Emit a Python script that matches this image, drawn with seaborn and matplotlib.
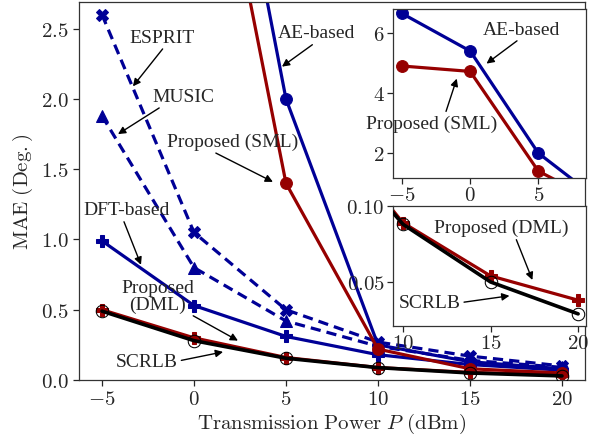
import matplotlib
matplotlib.use("Agg")
import matplotlib.pyplot as plt
import seaborn as sns
from matplotlib.ticker import FuncFormatter

# transmission power (dBm)
power = [-5, 0, 5, 10, 15, 20]

# MAE (deg.) per method
esprit = [2.60, 1.05, 0.50, 0.27, 0.17, 0.10]
music = [1.88, 0.80, 0.42, 0.24, 0.14, 0.09]
dft_based = [0.99, 0.53, 0.31, 0.18, 0.11, 0.07]
ae_based = [6.65, 5.40, 2.00, 0.25, 0.13, 0.08]
proposed_sml = [4.90, 4.72, 1.40, 0.22, 0.08, 0.05]
proposed_dml = [0.50, 0.30, 0.16, 0.089, 0.054, 0.038]
scrlb = [0.49, 0.28, 0.155, 0.088, 0.050, 0.029]

BLUE = "#000096"
RED = "#960000"

sns.set_style("ticks")
plt.rcParams["font.family"] = ["Liberation Serif", "DejaVu Serif"]
plt.rcParams["mathtext.fontset"] = "cm"
plt.rcParams["axes.linewidth"] = 0.9
plt.rcParams["axes.edgecolor"] = "#333333"

FS = 14
TICK_FS = 15

fig = plt.figure(figsize=(5.93, 4.39), dpi=100)
ax = fig.add_axes([0.1332, 0.1321, 0.8533, 0.861])


def draw(a, y, color, marker, ls="-", mfc=None, lw=2.3, ms=8.5, z=2):
    sns.lineplot(x=power, y=y, ax=a, color=color, marker=marker, linestyle=ls,
                 linewidth=lw, markersize=ms, markeredgecolor=color,
                 markerfacecolor=mfc if mfc is not None else color, zorder=z)


def math_fmt(fmt):
    return FuncFormatter(lambda v, p: "$" + format(v, fmt) + "$")


draw(ax, esprit, BLUE, "X", ls=(0, (3.2, 1.9)))
draw(ax, music, BLUE, "^", ls=(0, (3.2, 1.9)))
draw(ax, dft_based, BLUE, "P")
draw(ax, ae_based, BLUE, "o")
draw(ax, proposed_sml, RED, "o")
draw(ax, proposed_dml, RED, "P")
draw(ax, scrlb, "black", "o", mfc="none", lw=2.6, ms=9, z=3)

ax.set_ylim(0, 2.69)
ax.set_xticks([-5, 0, 5, 10, 15, 20])
ax.set_yticks([0.0, 0.5, 1.0, 1.5, 2.0, 2.5])
ax.xaxis.set_major_formatter(math_fmt("g"))
ax.yaxis.set_major_formatter(math_fmt(".1f"))
ax.tick_params(labelsize=TICK_FS, length=4, width=0.9)
ax.set_xlabel(r"$\mathrm{Transmission\ Power}\ P\ \mathrm{(dBm)}$", fontsize=15, labelpad=1)
ax.set_ylabel(r"$\mathrm{MAE\ (Deg.)}$", fontsize=15, labelpad=4)

arrow = dict(arrowstyle="-|>", color="black", lw=1.0, mutation_scale=11, shrinkA=0, shrinkB=0)

ax.annotate("ESPRIT", xy=(-3.32, 2.09), xytext=(-1.74, 2.44), fontsize=FS, ha="center",
            va="center", arrowprops=dict(arrow, relpos=(0.55, 0)))
ax.annotate("MUSIC", xy=(-4.13, 1.75), xytext=(-0.6, 2.02), fontsize=FS, ha="center",
            va="center", arrowprops=dict(arrow, relpos=(0.2, 0)))
ax.annotate("AE-based", xy=(4.78, 2.23), xytext=(6.68, 2.47), fontsize=FS, ha="center",
            va="center", arrowprops=dict(arrow, relpos=(0.5, 0)))
ax.annotate("Proposed (SML)", xy=(4.29, 1.41), xytext=(2.12, 1.70), fontsize=FS, ha="center",
            va="center", arrowprops=dict(arrow, relpos=(0.32, 0)))
ax.annotate("DFT-based", xy=(-2.88, 0.82), xytext=(-3.64, 1.21), fontsize=FS, ha="center",
            va="center", arrowprops=dict(arrow, relpos=(0.45, 0)))
ax.annotate("Proposed\n(DML)", xy=(2.39, 0.28), xytext=(-1.96, 0.60), fontsize=FS, ha="center",
            va="center", linespacing=0.95, arrowprops=dict(arrow, relpos=(0.82, 0.1)))
ax.annotate("SCRLB", xy=(1.58, 0.20), xytext=(-2.55, 0.135), fontsize=FS, ha="center",
            va="center", arrowprops=dict(arrow, relpos=(1.0, 0.5)))

# inset: high MAE region
ax1 = fig.add_axes([0.6627, 0.5923, 0.3255, 0.385])
draw(ax1, ae_based, BLUE, "o")
draw(ax1, proposed_sml, RED, "o")
ax1.set_xlim(-5.66, 8.5)
ax1.set_ylim(1.17, 6.8)
ax1.set_xticks([-5, 0, 5])
ax1.set_yticks([2, 4, 6])
ax1.xaxis.set_major_formatter(math_fmt("g"))
ax1.yaxis.set_major_formatter(math_fmt("g"))
ax1.tick_params(labelsize=TICK_FS, length=4, width=0.9, pad=2)
ax1.set_xlabel("")
ax1.set_ylabel("")
ax1.annotate("AE-based", xy=(1.2, 4.98), xytext=(3.76, 6.13), fontsize=FS, ha="center",
             va="center", arrowprops=dict(arrow, relpos=(0.5, 0)))
ax1.annotate("Proposed (SML)", xy=(-0.98, 4.48), xytext=(-2.81, 2.99), fontsize=FS, ha="center",
             va="center", arrowprops=dict(arrow, relpos=(0.6, 1.0)))

# inset: low MAE region
ax2 = fig.add_axes([0.6627, 0.2551, 0.3255, 0.2733])
draw(ax2, proposed_dml, RED, "P")
draw(ax2, scrlb, "black", "o", mfc="none", lw=2.6, ms=9, z=3)
ax2.set_xlim(9.43, 20.45)
ax2.set_ylim(0.021, 0.1)
ax2.set_xticks([10, 15, 20])
ax2.set_yticks([0.05, 0.10])
ax2.xaxis.set_major_formatter(math_fmt("g"))
ax2.yaxis.set_major_formatter(math_fmt(".2f"))
ax2.tick_params(labelsize=TICK_FS, length=4, width=0.9, pad=2)
ax2.set_xlabel("")
ax2.set_ylabel("")
ax2.annotate("Proposed (DML)", xy=(17.39, 0.0513), xytext=(15.63, 0.0857), fontsize=FS,
             ha="center", va="center", arrowprops=dict(arrow, relpos=(0.6, 0)))
ax2.annotate("SCRLB", xy=(16.08, 0.0409), xytext=(11.53, 0.0364), fontsize=FS, ha="center",
             va="center", arrowprops=dict(arrow, relpos=(1.0, 0.5)))

fig.savefig("out.png", dpi=100)
plt.close(fig)
